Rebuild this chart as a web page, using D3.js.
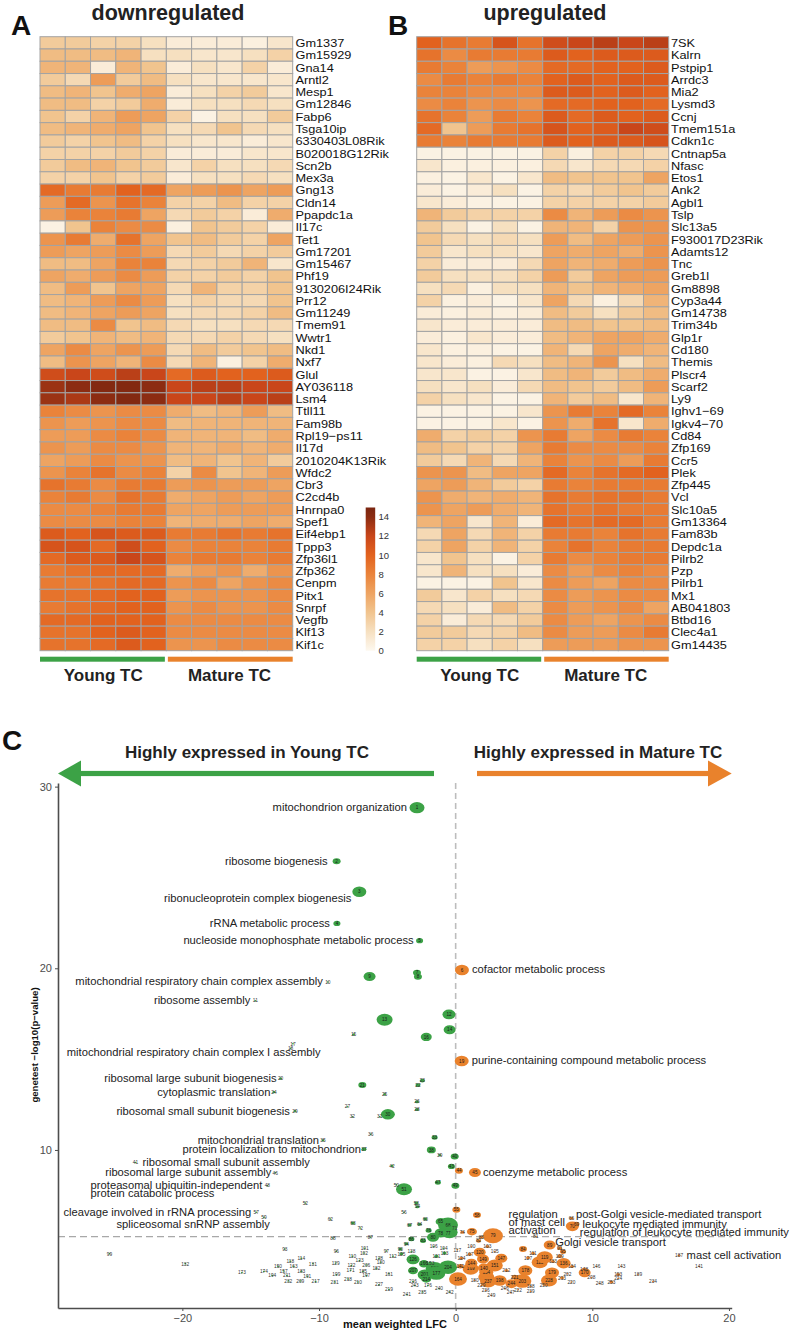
<!DOCTYPE html>
<html><head><meta charset="utf-8">
<script src="https://cdn.jsdelivr.net/npm/d3@7"></script>
<style>body{margin:0;background:#fff;} svg{display:block;font-family:"Liberation Sans",Arial,sans-serif;}</style>
</head><body><svg id="chart" width="790" height="1331"></svg>
<script>
// ---------------- DATA ----------------
const samples = ["Y1","Y2","Y3","Y4","Y5","M1","M2","M3","M4","M5"];
const groupNames = ["Young TC","Mature TC"];
const colorTicks = [0,2,4,6,8,10,12,14];

const downGenes = ["Gm1337","Gm15929","Gna14","Arntl2","Mesp1","Gm12846","Fabp6","Tsga10ip","6330403L08Rik","B020018G12Rik","Scn2b","Mex3a","Gng13","Cldn14","Ppapdc1a","Il17c","Tet1","Gm17201","Gm15467","Phf19","9130206I24Rik","Prr12","Gm11249","Tmem91","Wwtr1","Nkd1","Nxf7","Glul","AY036118","Lsm4","Ttll11","Fam98b","Rpl19\u2212ps11","Il17d","2010204K13Rik","Wfdc2","Cbr3","C2cd4b","Hnrnpa0","Spef1","Eif4ebp1","Tppp3","Zfp36l1","Zfp362","Cenpm","Pitx1","Snrpf","Vegfb","Klf13","Kif1c"];
const downValues = [
[3.5,3.5,3,3,2,1,1,1,0.7,1.5],
[4.5,4.5,4.5,5,2,2,1.5,1.5,2,3],
[5,5,1,5,4,1,2,1.5,3,1],
[3.5,2.5,6.5,3.5,4.5,2,1.5,1.5,1.5,1.5],
[4.5,5,4,5.5,6,1,2,3,3.5,1.5],
[4.5,4.5,3,3.5,5.5,1,2,2,2.5,2],
[4,3,5,6.5,6,3,0.5,2,2,3.5],
[4.5,5,5.5,6,4,2,2.5,4,2.5,2],
[3.5,3,4,4.5,3,2,1.5,1.5,1,1.5],
[3,3,3,3.5,3,1,1,1,1.5,1.5],
[3.5,4.5,5,4,3.5,1.5,3,2,2,2.5],
[3,3,4,3,3.5,1,2,2,2.5,2],
[9.5,8.5,8.5,10,9.5,6,6.5,7,6,6.5],
[6.5,9.5,7,9,8,3,3,4.5,3,3],
[6.5,8,8,8.5,6,2.5,3.5,3,1,5.5],
[0.5,4,8,7.5,7.5,0.7,4,3.5,3,1],
[7,8.5,5.5,9,6,4,4.5,3.5,3,6],
[6.5,6,6.5,7.5,6.5,2.5,3.5,2.5,3,3.5],
[4.5,4.5,6,8,8,2.5,3,3.5,5,1.5],
[6,5.5,6.5,7.5,6.5,3,3,3.5,3,4],
[4.5,6.5,4,6,6,2.5,5,3,3,4],
[4.5,5,6.5,7.5,6.5,2,3,2.5,2.5,4],
[4.5,5,6,6.5,6,2,2.5,2.5,3,4.5],
[4.5,4.5,7.5,4,4.5,2.5,2,2,2.5,2.5],
[3.5,4,5,4.5,5,2.5,2.5,3,2.5,2],
[6,7.5,6,7,6.5,2.5,4.5,3.5,4,4.5],
[4.5,7,6,5,7.5,2.5,5,0.7,3,5.5],
[11.5,12,11.5,12.5,12,9.5,10.5,10,10,10.5],
[13.5,14,14.5,14.5,14,12,12.5,12.5,12,12],
[13.5,13,14,14.5,14,12,12,12.5,12,12.5],
[8,7.5,7,7.5,7.5,5.5,4.5,5,6.5,4.5],
[7,6.5,7,7.5,7.5,4.5,5,5,5,5],
[6.5,6.5,7.5,8,7.5,5,5,5,4.5,5.5],
[7,6.5,7.5,7.5,7,5,5,5.5,5,5.5],
[6,6.5,7.5,7,7,4.5,5,4,5,3.5],
[7,8,9,7.5,8,3,7.5,4,5,6.5],
[9,8.5,7.5,8.5,8.5,6.5,7,6.5,6.5,6],
[8,8.5,7.5,9,8.5,5.5,6,6.5,6,6.5],
[7.5,7.5,8,8.5,8.5,6,6,6.5,6.5,6.5],
[7.5,7.5,7.5,8,8,5,5.5,5.5,6,5.5],
[10.5,10,11,10.5,10.5,8.5,8.5,9,8.5,9],
[11,11,9.5,11.5,10,7.5,8,8,8,8.5],
[9.5,10.5,10.5,12,11,8,8.5,8.5,8,8.5],
[8.5,9,9.5,9.5,9.5,5.5,6.5,7,5.5,7],
[8.5,8.5,9,9.5,9.5,7,7.5,6,7,7.5],
[9,9,9.5,10,10,6.5,7,7,7,7.5],
[8.5,9,9.5,10,10,7,7.5,7,7,7.5],
[9.5,9.5,10,10,10,7.5,7.5,7.5,7.5,7.5],
[9,9,10,10.5,10,7.5,7.5,7.5,7.5,7.5],
[9,9,9.5,10.5,10,7,7,7.5,7.5,7.5]];

const upGenes = ["7SK","Kalrn","Pstpip1","Arrdc3","Mia2","Lysmd3","Ccnj","Tmem151a","Cdkn1c","Cntnap5a","Nfasc","Etos1","Ank2","Agbl1","Tslp","Slc13a5","F930017D23Rik","Adamts12","Tnc","Greb1l","Gm8898","Cyp3a44","Gm14738","Trim34b","Glp1r","Cd180","Themis","Plscr4","Scarf2","Ly9","Ighv1\u221269","Igkv4\u221270","Cd84","Zfp169","Ccr5","Plek","Zfp445","Vcl","Slc10a5","Gm13364","Fam83b","Depdc1a","Pilrb2","Pzp","Pilrb1","Mx1","AB041803","Btbd16","Clec4a1","Gm14435"];
const upValues = [
[10,9,8.5,11,9,11.5,12,12.5,12,12.5],
[9,7.5,8.5,8.5,8.5,10.5,10,10.5,10.5,10.5],
[8.5,8,6.5,7,7.5,9.5,9.5,10,10,10.5],
[7.5,8.5,8,8.5,8,10,10.5,10,10.5,10.5],
[8,8,7.5,7.5,7.5,10.5,10.5,10,10.5,10],
[7.5,8,7,7.5,7,9.5,9.5,10,10,9.5],
[9,8,6.5,8.5,8,10.5,9.5,10.5,10,10.5],
[9.5,4,6.5,8.5,9,11,10,10.5,12,11.5],
[8.5,8,8.5,8.5,8.5,10.5,10,10.5,10.5,11],
[0.5,0.5,0.5,0.5,0.5,3,0.7,3,3,2.5],
[1.5,0.7,0.7,0.7,0.7,2.5,1.5,2.5,2.5,3],
[0.7,0.5,1.5,0.5,1.5,4.5,4,4,4,6],
[1,0.5,1,2,0.5,3,2.5,3.5,4,3.5],
[1.5,1,0.5,0.5,0.5,3,3,3,3,3.5],
[5,3.5,3,3,3,7.5,5,6.5,7.5,7],
[3.5,2,0.5,2,0.5,5,5,3,7,7],
[4,2.5,2,2.5,2,6.5,4.5,6,6.5,7],
[3.5,1.5,2,2,1.5,6,5.5,6,5.5,7],
[3,1,1,1,2.5,6,5,5.5,6.5,7],
[3.5,2,2,2,3,6.5,3.5,6,6.5,6.5],
[2,2.5,0.7,2,2,5,4,5,5.5,6],
[3,0.7,1,0.5,1.5,6,2.5,0.7,2.5,5],
[1,0.7,1,0.7,1,4.5,3.5,2,3.5,4.5],
[1.5,1,1,1,1,4.5,4.5,4,4,4.5],
[1,0.7,1.5,1,1,4.5,5,6,6,5.5],
[1.5,0.7,0.7,0.5,0.5,5,2.5,6,5.5,5],
[1.5,1,0.7,2.5,2,4.5,5,7,2,4.5],
[1.5,1.5,0.5,0.5,1.5,4.5,5,3.5,4.5,5.5],
[2,1.5,2,1,2.5,4.5,4,3.5,4.5,6.5],
[3,2,1.5,0.5,0.5,5,3.5,4.5,1.5,5],
[0.5,0.5,0.5,0.5,1.5,7,8.5,8,9.5,8],
[0.5,0.5,0.5,1.5,0.5,7,5.5,9,1.5,5.5],
[5.5,3,3.5,3,7,8.5,6,7.5,8.5,8],
[4.5,4,3,3,6,8.5,7.5,7.5,7.5,8],
[3.5,2.5,5,2.5,5,8,7,7.5,6.5,8.5],
[7,7,4.5,6,6,9.5,8,9,9.5,10],
[6,6.5,5,3.5,3,8.5,8,8.5,8.5,8.5],
[7,5.5,5,5.5,5,9,8.5,9,9,8.5],
[7,6,6.5,5.5,5,9,8.5,9,8.5,8.5],
[5,6,1.5,5,1,9.5,9,9.5,9.5,8.5],
[2.5,6,2.5,5,3,8.5,8.5,8,9,8.5],
[3,6,3,5,3,8,9,8,8.5,8.5],
[1.5,4,2,0.5,3,8.5,7.5,8,8.5,8.5],
[1.5,5,2,2,1,7.5,6.5,7.5,8,7.5],
[0.5,0.5,0.5,4,1.5,7.5,6.5,6,7.5,7.5],
[3.5,1.5,3,2,2.5,7.5,6.5,7,7.5,7.5],
[2.5,2,1,4.5,3,7.5,6.5,7,7.5,6],
[3,1,2.5,2.5,3.5,7.5,6.5,6,7,7.5],
[3.5,3.5,2.5,3,4.5,7.5,6.5,6.5,7.5,8.5],
[3,3,2,3,2,6.5,6.5,6.5,7,7]];

// GO terms: [id, mean weighted LFC, -log10(p), gene count]
const goTerms = [
[1,-2.83,28.84,225],[2,-8.71,25.89,64],[3,-7.05,24.21,196],[4,-8.69,22.47,49],[5,-2.64,21.52,49],
[6,0.46,19.91,196],[7,-2.83,19.75,64],[8,-2.76,19.53,64],[9,-6.3,19.55,144],[10,-9.35,19.25,4],
[11,-14.66,18.21,4],[12,-0.49,17.46,169],[13,-5.2,17.17,256],[14,-0.44,16.62,144],[15,-7.47,16.35,9],
[16,-2.15,16.22,121],[17,-11.91,15.84,4],[18,-12.08,15.6,4],[19,0.44,14.9,196],[20,-12.81,13.92,9],
[21,-6.83,13.57,64],[22,-2.76,13.57,25],[23,-2.44,13.82,25],[24,-13.3,13.18,9],[25,-5.2,13.06,9],
[26,-2.83,12.65,16],[27,-7.92,12.38,4],[28,-2.83,12.23,16],[29,-11.76,12.14,9],[30,-4.96,11.96,196],
[31,-5.56,11.83,4],[32,-7.56,11.83,4],[33,-1.54,10.68,36],[35,-9.71,10.53,9],[36,-6.22,10.86,4],
[37,-6.71,10.04,25],[38,-1.78,10.0,81],[39,-1.17,9.71,9],[40,-0.07,9.64,64],[41,-23.43,9.31,4],
[42,-4.66,9.12,9],[43,-0.31,9.09,49],[44,0.24,8.85,64],[45,1.41,8.76,144],[46,-13.2,8.74,4],
[47,-1.3,8.21,36],[48,-13.78,8.03,4],[49,-0.02,8.03,64],[50,-4.34,8.08,4],[51,-3.78,7.84,256],
[52,-11.0,7.08,4],[53,-2.88,7.08,16],[54,-2.8,6.87,16],[55,0.05,6.71,64],[56,-3.78,6.57,4],
[57,-14.59,6.57,4],[58,1.56,6.42,64],[59,-14.03,6.29,4],[60,-2.22,6.2,16],[62,-9.17,6.2,4],
[63,-7.52,5.98,16],[64,-2.64,5.91,16],[65,-1.1,6.05,100],[66,8.47,6.24,16],[67,-3.37,5.87,16],
[68,-0.56,5.87,400],[69,8.84,5.92,36],[70,8.54,5.8,169],[71,-0.07,5.69,16],[72,-6.98,5.7,4],
[73,-0.44,5.47,256],[74,0.49,5.47,16],[75,1.19,5.5,100],[76,-1.98,5.56,36],[77,-0.56,5.43,144],
[78,-1.1,5.43,144],[79,2.73,5.28,400],[80,-1.66,5.19,144],[81,5.86,5.23,4],[82,1.68,5.0,25],
[83,-2.39,5.0,36],[84,4.93,4.55,64],[85,1.88,5.19,16],[86,-3.24,5.1,36],[87,-6.24,5.19,4],
[88,-8.98,5.16,4],[89,6.88,4.77,144],[90,-4.05,4.55,16],[91,7.61,4.59,25],[93,-12.5,4.55,4],
[94,-3.61,4.83,16],[95,7.86,4.4,36],[96,-8.73,4.43,4],[97,-5.07,4.44,4],[99,-25.33,4.28,4],
[100,1.15,4.7,4],[101,-6.66,4.59,4],[102,-6.71,4.33,4],[103,2.32,4.68,16],[104,-0.88,4.59,4],
[105,2.86,4.4,4],[106,-1.61,4.68,4],[107,1.02,4.26,16],[109,7.61,4.15,25],[110,-7.56,4.15,4],
[111,5.66,4.32,16],[112,-4.59,4.15,4],[113,-0.81,4.33,16],[114,-11.3,4.04,4],[115,6.15,3.82,256],
[117,0.12,4.5,4],[118,-12.1,3.88,4],[119,6.52,4.1,256],[120,1.76,4.37,144],[121,-1.41,4.15,16],
[122,-7.63,3.64,4],[123,-7.03,3.91,4],[124,0.42,4.04,16],[125,-3.97,4.28,16],[126,-3.12,3.97,169],
[127,5.3,4.06,16],[128,-5.61,4.04,4],[129,-8.78,3.78,4],[130,-5.49,3.82,4],[131,-10.45,3.73,4],
[132,-19.79,3.73,4],[133,7.12,3.86,16],[134,8.51,3.58,16],[136,7.9,3.77,196],[138,-3.24,4.4,4],
[140,2.07,3.5,144],[141,17.81,3.58,4],[142,0.34,3.6,36],[143,12.13,3.58,4],[144,1.15,3.77,144],
[146,10.3,3.58,4],[147,3.34,4.04,144],[148,9.4,3.44,16],[149,2.0,4.0,144],[150,-13.0,3.58,4],
[151,2.86,3.64,256],[153,-1.85,3.78,16],[154,2.24,3.27,196],[157,-12.59,3.33,4],[161,-4.88,3.18,4],
[163,-11.86,3.58,4],[164,0.17,2.9,324],[166,-2.32,3.73,100],[169,1.1,3.46,256],[170,9.44,3.24,144],
[171,-7.69,3.38,4],[172,-1.54,3.46,324],[173,-15.64,3.24,4],[174,-14.03,3.31,4],[176,-2.03,2.54,4],
[177,-1.41,3.22,324],[178,5.1,3.36,196],[179,7.05,3.24,196],[180,1.39,2.81,4],[182,-5.8,3.46,4],
[183,-11.3,3.31,4],[185,-6.78,3.31,4],[186,2.24,3.0,256],[187,16.35,4.19,9],[188,5.49,2.48,4],
[189,13.35,3.13,4],[191,-10.86,3.05,4],[193,11.89,3.14,16],[194,-13.42,3.09,4],[197,-6.54,3.09,4],
[198,3.22,2.81,196],[199,-8.73,3.13,4],[201,-2.27,3.13,196],[202,8.18,3.18,4],[203,4.88,2.78,324],
[204,-0.56,3.55,324],[206,-6.54,3.67,4],[207,-3.12,3.36,100],[208,9.93,2.98,4],[209,-11.37,2.78,4],
[210,-7.15,2.73,4],[211,-12.35,3.09,4],[212,3.71,3.36,16],[213,7.78,2.96,16],[214,-2.15,2.9,100],
[216,-3.12,2.76,4],[217,-10.25,2.76,4],[218,-7.88,2.9,4],[219,-4.88,2.32,4],[220,8.47,2.73,4],
[221,4.32,3.0,36],[222,4.56,2.3,4],[224,11.89,2.94,4],[227,-5.61,2.58,4],[228,6.83,2.81,256],
[229,1.88,2.54,4],[231,-8.86,2.73,4],[232,-12.25,2.78,4],[234,14.44,2.76,4],[235,-2.44,2.18,4],
[236,2.2,2.27,4],[237,2.37,2.76,256],[239,5.49,2.21,4],[240,-1.22,2.36,4],[241,-3.57,2.03,4],
[242,-0.44,2.18,4],[243,-3.0,2.54,4],[244,4.08,2.64,144],[246,3.59,2.36,4],[247,4.03,2.14,4],
[248,10.54,2.65,4],[249,2.61,1.99,4],[250,6.44,2.54,4],[253,11.4,2.73,16]];

const termLabels = [
[1,"mitochondrion organization"],[2,"ribosome biogenesis"],[3,"ribonucleoprotein complex biogenesis"],
[4,"rRNA metabolic process"],[5,"nucleoside monophosphate metabolic process"],[6,"cofactor metabolic process"],
[10,"mitochondrial respiratory chain complex assembly"],[11,"ribosome assembly"],
[18,"mitochondrial respiratory chain complex I assembly"],[19,"purine-containing compound metabolic process"],
[20,"ribosomal large subunit biogenesis"],[24,"cytoplasmic translation"],[29,"ribosomal small subunit biogenesis"],
[35,"mitochondrial translation"],[37,"protein localization to mitochondrion"],[41,"ribosomal small subunit assembly"],
[45,"coenzyme metabolic process"],[46,"ribosomal large subunit assembly"],
[48,"proteasomal ubiquitin-independent|protein catabolic process"],
[57,"cleavage involved in rRNA processing"],[59,"spliceosomal snRNP assembly"],
[69,"regulation|of mast cell|activation"],[66,"post-Golgi vesicle-mediated transport"],
[69,"leukocyte mediated immunity"],[70,"regulation of leukocyte mediated immunity"],
[89,"Golgi vesicle transport"],[187,"mast cell activation"]];

const xTicks = [-20,-10,0,10,20];
const yTicks = [10,20,30];
const pThreshold = 5.23;

// ---------------- LAYOUT / STYLE ----------------
// label placement (pixel offsets from the bubble centre), same order as termLabels
const labelLayout = [
 {a:"end",dx:-10,dy:0},{a:"end",dx:-9,dy:0},{a:"end",dx:-8,dy:7},{a:"end",dx:-7,dy:0},{a:"end",dx:-6,dy:0},
 {a:"start",dx:10,dy:0},{a:"end",dx:-5,dy:0},{a:"end",dx:-5,dy:0},{a:"end",dx:30,dy:4.5},{a:"start",dx:10,dy:0},
 {a:"end",dx:-4,dy:0},{a:"end",dx:-3.5,dy:0},{a:"end",dx:-5,dy:0},{a:"end",dx:-4,dy:0},{a:"end",dx:-3,dy:0},
 {a:"start",dx:7,dy:0},{a:"start",dx:8,dy:0},{a:"end",dx:-4,dy:0},{a:"block",dx:-5,dy:-0.5},{a:"end",dx:-5,dy:0},
 {a:"end",dx:6,dy:7},{a:"start",dx:-68,dy:-9.5},{a:"start",dx:4.5,dy:-3.5},{a:"start",dx:6,dy:0},
 {a:"start",dx:7.5,dy:6.5},{a:"start",dx:5.5,dy:-2},{a:"start",dx:7.5,dy:0}];
const LABEL_FS = 10, LABEL_SX = 1.12, LINE_GAP = 8.2;

const GREEN = "#3ca246", ORANGE = "#e9822c";
const svg = d3.select("#chart");

const heatColor = d3.scaleLinear()
  .domain([0,2,4,6,8,10,12,14,15])
  .range(["#fdf8ef","#f6e0c0","#f1c48e","#eea462","#ea833a","#e2621e","#c9461a","#8c2c12","#7a2510"])
  .clamp(true);

function stretchedText(g, tx, ty, txt, fs, sx, anchor) {
  return g.append("text").attr("transform", `translate(${tx},${ty}) scale(${sx},1)`)
    .attr("text-anchor", anchor || "start").attr("font-size", fs).text(txt);
}

function drawHeatmap(genes, values, x0, x1, y0, y1, labelX) {
  const g = svg.append("g");
  const xb = d3.scaleBand().domain(samples).range([x0, x1]);
  const yb = d3.scaleBand().domain(genes).range([y0, y1]);
  genes.forEach((gene, i) => {
    samples.forEach((s, j) => {
      g.append("rect").attr("x", xb(s)).attr("y", yb(gene))
        .attr("width", xb.bandwidth()).attr("height", yb.bandwidth())
        .attr("fill", heatColor(values[i][j]))
        .attr("stroke", "#a3a3a3").attr("stroke-width", 1);
    });
    stretchedText(g, labelX, yb(gene) + yb.bandwidth()/2 + 4.2, gene, 11.8, 1.08).attr("fill", "#111");
  });
  // group annotation bars
  const ys = y1 + 6, bh = 5;
  const youngEnd = xb(samples[4]) + xb.bandwidth();
  g.append("rect").attr("x", x0).attr("y", ys).attr("width", youngEnd - x0 - 1.5).attr("height", bh).attr("fill", GREEN);
  g.append("rect").attr("x", youngEnd + 1.5).attr("y", ys).attr("width", x1 - youngEnd - 1.5).attr("height", bh).attr("fill", ORANGE);
  g.append("text").attr("x", (x0 + youngEnd)/2).attr("y", y1 + 30).attr("text-anchor","middle")
    .attr("font-size", 17).attr("font-weight","bold").attr("fill","#222").text(groupNames[0]);
  g.append("text").attr("x", (youngEnd + x1)/2).attr("y", y1 + 30).attr("text-anchor","middle")
    .attr("font-size", 17).attr("font-weight","bold").attr("fill","#222").text(groupNames[1]);
}

drawHeatmap(downGenes, downValues, 40, 292.7, 36.7, 650.7, 295.5);
drawHeatmap(upGenes, upValues, 416.7, 668.7, 36.7, 650.7, 671);

// titles
svg.append("text").attr("x",168).attr("y",19.5).attr("text-anchor","middle").attr("font-size",21.5).attr("font-weight","bold").attr("fill","#222").text("downregulated");
svg.append("text").attr("x",545).attr("y",19.5).attr("text-anchor","middle").attr("font-size",21.5).attr("font-weight","bold").attr("fill","#222").text("upregulated");
svg.append("text").attr("x",11).attr("y",35).attr("font-size",28).attr("font-weight","bold").attr("fill","#111").text("A");
svg.append("text").attr("x",388).attr("y",35).attr("font-size",28).attr("font-weight","bold").attr("fill","#111").text("B");
svg.append("text").attr("x",2).attr("y",750).attr("font-size",28).attr("font-weight","bold").attr("fill","#111").text("C");

// colour bar
const cbY = d3.scaleLinear().domain([0,15]).range([650.7, 507.5]);
const defs = svg.append("defs");
const grad = defs.append("linearGradient").attr("id","cbgrad").attr("x1",0).attr("y1",1).attr("x2",0).attr("y2",0);
d3.range(0, 15.01, 0.5).forEach(v => grad.append("stop").attr("offset", v/15).attr("stop-color", heatColor(v)));
svg.append("rect").attr("x",365.7).attr("y",cbY(15)).attr("width",9.5).attr("height",cbY(0)-cbY(15)).attr("fill","url(#cbgrad)");
colorTicks.forEach(t => {
  svg.append("text").attr("x",378.5).attr("y",cbY(t)).attr("dy","0.35em").attr("font-size",9.5).attr("fill","#333").text(t);
});

// ---------------- PANEL C ----------------
const x = d3.scaleLinear().domain([-29.1, 20.2]).range([58, 731.7]);
const y = d3.scaleLinear().domain([1.3, 30.2]).range([1308, 783]);
const rS = d3.scaleSqrt().domain([0, 400]).range([0, 10]);

// direction arrows
const arrowY = 773.5;
svg.append("rect").attr("x",80).attr("y",arrowY-2.6).attr("width",354).attr("height",5.2).attr("fill",GREEN);
svg.append("path").attr("d",`M58,${arrowY} L81,${arrowY-13} L81,${arrowY+13} Z`).attr("fill",GREEN);
svg.append("rect").attr("x",477).attr("y",arrowY-2.6).attr("width",232).attr("height",5.2).attr("fill",ORANGE);
svg.append("path").attr("d",`M731.7,${arrowY} L708,${arrowY-13} L708,${arrowY+13} Z`).attr("fill",ORANGE);
svg.append("text").attr("x",247).attr("y",758.3).attr("text-anchor","middle").attr("font-size",17).attr("font-weight","bold").attr("fill","#222").text("Highly expressed in Young TC");
svg.append("text").attr("x",598).attr("y",758.3).attr("text-anchor","middle").attr("font-size",17).attr("font-weight","bold").attr("fill","#222").text("Highly expressed in Mature TC");

// reference lines
svg.append("line").attr("x1",x(0)).attr("x2",x(0)).attr("y1",y(30.2)).attr("y2",y(1.3))
  .attr("stroke","#bdbdbd").attr("stroke-width",1.6).attr("stroke-dasharray","6,4");
svg.append("line").attr("x1",x(-29.1)).attr("x2",x(20.2)).attr("y1",y(pThreshold)).attr("y2",y(pThreshold))
  .attr("stroke","#a8a8a8").attr("stroke-width",1.3).attr("stroke-dasharray","7,4");

// axes
const yAx = svg.append("g").attr("transform",`translate(${x(-29.1)},0)`)
  .call(d3.axisLeft(y).tickValues(yTicks).tickSize(3).tickSizeOuter(0).tickFormat(d3.format("d")));
const xAx = svg.append("g").attr("transform",`translate(0,${y(1.3)})`)
  .call(d3.axisBottom(x).tickValues(xTicks).tickSize(3).tickSizeOuter(0).tickFormat(d => d < 0 ? "\u2212" + Math.abs(d) : d));
[yAx, xAx].forEach(a => {
  a.select(".domain").attr("stroke","#4d4d4d").attr("stroke-width",1.6);
  a.selectAll(".tick line").attr("stroke","#4d4d4d");
  a.selectAll(".tick text").attr("fill","#4d4d4d").attr("font-size",11).attr("font-family","Liberation Sans, Arial, sans-serif");
});
svg.append("text").attr("x",395).attr("y",1328).attr("text-anchor","middle").attr("font-size",11).attr("font-weight","bold").attr("fill","#111").text("mean weighted LFC");
svg.append("text").attr("transform","translate(38,1045) rotate(-90)").attr("text-anchor","middle").attr("font-size",9.6).attr("font-weight","bold").attr("fill","#111").text("genetest \u2212log10(p\u2212value)");

// bubbles
const pts = goTerms.map(d => ({id:d[0], lfc:d[1], lp:d[2], n:d[3]}))
  .sort((a,b) => b.n - a.n);
const pg = svg.append("g");
pts.forEach(p => {
  const r = Math.max(0.9, rS(p.n));
  const cx = x(p.lfc), cy = y(p.lp);
  const col = p.lfc < 0 ? GREEN : ORANGE;
  pg.append("ellipse").attr("cx",cx).attr("cy",cy).attr("rx",r).attr("ry",r*0.75).attr("fill",col);
  pg.append("text").attr("x",cx).attr("y",cy).attr("dy","0.35em").attr("text-anchor","middle")
    .attr("font-size", r >= 3 ? 4.6 : 4.8).attr("fill", r >= 3 ? "#1a1a1a" : "#333").text(p.id);
});

// term labels
const lg = svg.append("g").attr("fill","#222");
termLabels.forEach((L, i) => {
  const lay = labelLayout[i];
  const p = goTerms.find(d => d[0] === L[0]);
  const cx = x(p[1]), cy = y(p[2]);
  const lines = L[1].split("|");
  const bx = cx + lay.dx, by = cy + lay.dy + 3.5;
  if (lay.a === "block") {
    const t1 = stretchedText(lg, bx, by, lines[0], LABEL_FS, LABEL_SX, "end");
    const startX = bx - t1.node().getComputedTextLength() * LABEL_SX;
    lines.slice(1).forEach((ln, k) => stretchedText(lg, startX, by + LINE_GAP*(k+1), ln, LABEL_FS, LABEL_SX, "start"));
  } else {
    lines.forEach((ln, k) => stretchedText(lg, bx, by + LINE_GAP*k, ln, LABEL_FS, LABEL_SX, lay.a));
  }
});
</script></body></html>
